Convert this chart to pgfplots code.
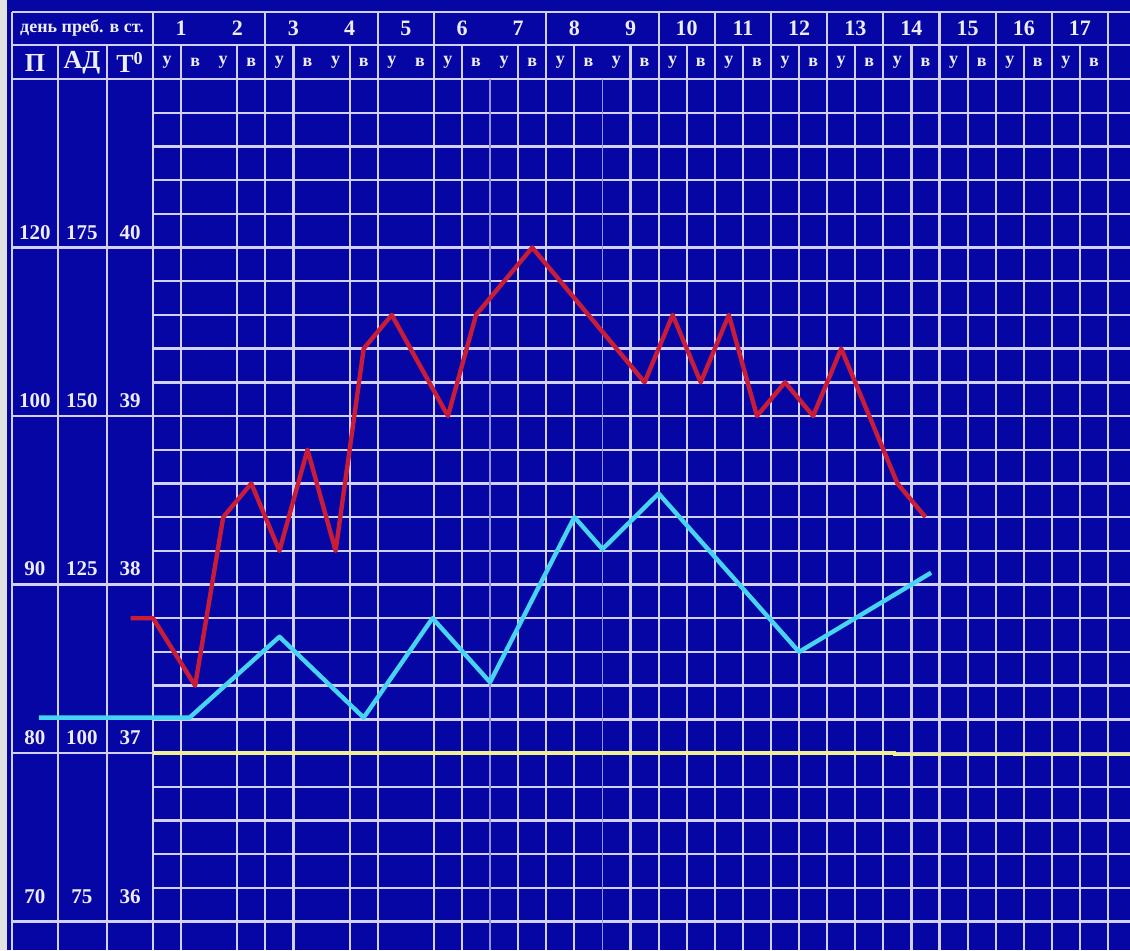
\documentclass[border=0pt]{standalone}
\usepackage{pgfplots}
\pgfplotsset{compat=1.18}
\usepackage{fontspec}
\setmainfont{Liberation Serif}
\definecolor{bg}{RGB}{6,6,164}
\definecolor{gridc}{RGB}{208,208,248}
\definecolor{redl}{RGB}{200,28,55}
\definecolor{cyanl}{RGB}{70,212,242}
\definecolor{yell}{RGB}{240,240,140}
\definecolor{txt}{RGB}{236,236,250}
\tikzset{
  lab/.style={text=txt, font=\bfseries\fontsize{10.5}{10.5}\selectfont},
  hd/.style={text=txt, font=\bfseries\fontsize{13}{13}\selectfont},
  dy/.style={text=txt, font=\bfseries\fontsize{11}{11}\selectfont},
  uv/.style={text=txt, font=\bfseries\fontsize{9}{9}\selectfont},
}
\begin{document}
\begin{tikzpicture}
\begin{axis}[
  width=565pt, height=475pt, scale only axis,
  xmin=-5.447, xmax=34.781, ymin=35.831, ymax=41.469,
  axis line style={draw=none}, ticks=none,
  axis background/.style={fill=bg},
  clip=true,
]
% light window strip on the left
\fill[gray!22] (axis cs:-5.447,35.831) rectangle (axis cs:-5.198,41.469);
% horizontal lines, data area
\pgfplotsinvokeforeach{40.8,40.6,40.4,40.2,39.8,39.6,39.4,39.2,38.8,38.6,38.4,38.2,37.8,37.6,37.4,37.2,36.8,36.6,36.4,36.2}{
  \draw[gridc, line width=1.2pt] (axis cs:0,#1) -- (axis cs:34.781,#1);
}
% full-width horizontal lines
\pgfplotsinvokeforeach{41.398,41.202,41.0,40.0,39.0,38.0,37.0,36.0}{
  \draw[gridc, line width=1.2pt] (axis cs:-5.020,#1) -- (axis cs:34.781,#1);
}
% vertical lines through both header rows
\pgfplotsinvokeforeach{0,4,8,10,14,18,20,22,24,26,28,30,32,34}{
  \draw[gridc, line width=1.1pt] (axis cs:#1,41.398) -- (axis cs:#1,35.831);
}
% vertical lines from the second header row
\pgfplotsinvokeforeach{1,3,5,7,11,13,15,17,19,21,23,25,27,29,31,33}{
  \draw[gridc, line width=1.1pt] (axis cs:#1,41.202) -- (axis cs:#1,35.831);
}
% faint vertical lines in the data area only
\pgfplotsinvokeforeach{12,16}{
  \draw[gridc!70!bg, line width=0.9pt] (axis cs:#1,41.0) -- (axis cs:#1,35.831);
}
% left columns
\draw[gridc, line width=1.1pt] (axis cs:-5.020,41.398) -- (axis cs:-5.020,35.831);
\draw[gridc, line width=1.1pt] (axis cs:-3.382,41.202) -- (axis cs:-3.382,35.831);
\draw[gridc, line width=1.1pt] (axis cs:-1.638,41.202) -- (axis cs:-1.638,35.831);

% header texts
\node[text=txt, font=\bfseries\fontsize{9}{9}\selectfont] at (axis cs:-2.528,41.300) {день преб. в ст.};
\node[hd] at (axis cs:-4.201,41.098) {П};
\node[hd] at (axis cs:-2.528,41.098) {АД};
\node[hd] at (axis cs:-0.819,41.098) {Т\textsuperscript{0}};
\foreach \d in {1,...,17}{
  \pgfmathsetmacro\xx{2*\d-1}
  \pgfmathsetmacro\xm{2*\d-1.5}
  \pgfmathsetmacro\xe{2*\d-0.5}
  \edef\tmp{\noexpand\node[dy] at (axis cs:\xx,41.300) {\d};
    \noexpand\node[uv] at (axis cs:\xm,41.098) {у};
    \noexpand\node[uv] at (axis cs:\xe,41.098) {в};}
  \tmp
}
% scale labels: pulse, blood pressure, temperature
\node[lab] at (axis cs:-4.201,40.086) {120};
\node[lab] at (axis cs:-2.528,40.086) {175};
\node[lab] at (axis cs:-0.819,40.086) {40};
\node[lab] at (axis cs:-4.201,39.089) {100};
\node[lab] at (axis cs:-2.528,39.089) {150};
\node[lab] at (axis cs:-0.819,39.089) {39};
\node[lab] at (axis cs:-4.201,38.092) {90};
\node[lab] at (axis cs:-2.528,38.092) {125};
\node[lab] at (axis cs:-0.819,38.092) {38};
\node[lab] at (axis cs:-4.201,37.089) {80};
\node[lab] at (axis cs:-2.528,37.089) {100};
\node[lab] at (axis cs:-0.819,37.089) {37};
\node[lab] at (axis cs:-4.201,36.145) {70};
\node[lab] at (axis cs:-2.528,36.145) {75};
\node[lab] at (axis cs:-0.819,36.145) {36};

% normal temperature line (37)
\addplot[yell, line width=1.6pt] coordinates {(0,37.0) (26.4,37.0) (26.4,36.99) (34.781,36.99)};
% pulse (cyan)
\addplot[cyanl, line width=2.2pt, line join=round] coordinates {
 (-4.06,37.21) (1.3,37.21) (4.5,37.69) (7.5,37.21) (9.95,37.80) (12.0,37.42)
 (15.0,38.40) (16.0,38.21) (18.0,38.54) (23.0,37.60) (27.7,38.07)};
% temperature (red)
\addplot[redl, line width=2.2pt, line join=round] coordinates {
 (-0.8,37.80) (0,37.80) (1.5,37.40) (2.5,38.40) (3.5,38.60) (4.5,38.20) (5.5,38.80)
 (6.5,38.20) (7.5,39.40) (8.5,39.60) (10.5,39.00) (11.5,39.60) (12.5,39.80) (13.5,40.00)
 (17.5,39.20) (18.5,39.60) (19.5,39.20) (20.5,39.60) (21.5,39.00) (22.5,39.20) (23.5,39.00)
 (24.5,39.40) (25.5,39.00) (26.5,38.60) (27.5,38.40)};
\end{axis}
\end{tikzpicture}
\end{document}
